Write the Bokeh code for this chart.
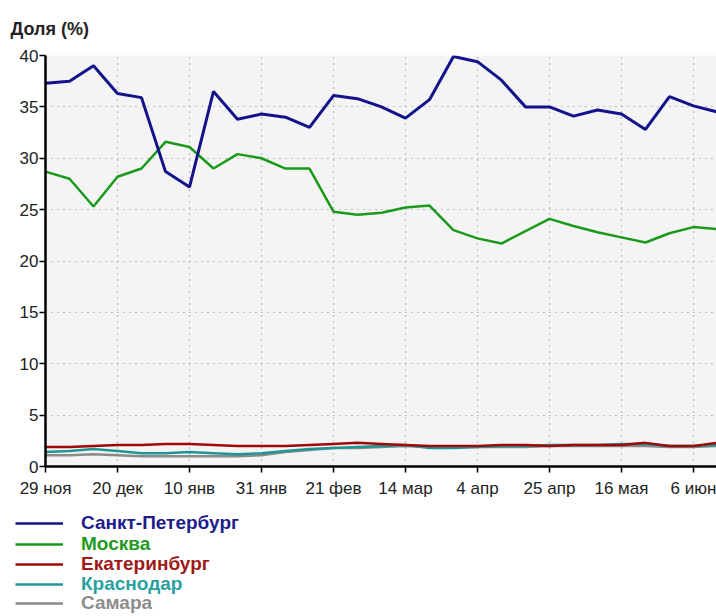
from bokeh.plotting import figure
from bokeh.models import Range1d, FixedTicker, Legend, LegendItem
from bokeh.layouts import column, row
from bokeh.embed import file_html
from bokeh.resources import INLINE

# weekly observations, 29 Nov .. 13 Jun
week_idx = list(range(29))
tick_pos = [0, 3, 6, 9, 12, 15, 18, 21, 24, 27]
tick_labels = ["29 ноя", "20 дек", "10 янв", "31 янв", "21 фев",
               "14 мар", "4 апр", "25 апр", "16 мая", "6 июн"]

spb = [37.3, 37.5, 39.0, 36.3, 35.9, 28.7, 27.2, 36.5, 33.8, 34.3, 34.0, 33.0,
       36.1, 35.8, 35.0, 33.9, 35.7, 39.9, 39.4, 37.6, 35.0, 35.0, 34.1, 34.7,
       34.3, 32.8, 36.0, 35.1, 34.5]
msk = [28.7, 28.0, 25.3, 28.2, 29.0, 31.6, 31.1, 29.0, 30.4, 30.0, 29.0, 29.0,
       24.8, 24.5, 24.7, 25.2, 25.4, 23.0, 22.2, 21.7, 22.9, 24.1, 23.4, 22.8,
       22.3, 21.8, 22.7, 23.3, 23.1]
ekb = [1.9, 1.9, 2.0, 2.1, 2.1, 2.2, 2.2, 2.1, 2.0, 2.0, 2.0, 2.1, 2.2, 2.3,
       2.2, 2.1, 2.0, 2.0, 2.0, 2.1, 2.1, 2.0, 2.1, 2.1, 2.1, 2.3, 2.0, 2.0, 2.3]
krd = [1.4, 1.5, 1.7, 1.5, 1.3, 1.3, 1.4, 1.3, 1.2, 1.3, 1.5, 1.7, 1.8, 1.9,
       2.0, 2.1, 1.8, 1.8, 1.9, 2.0, 2.0, 2.1, 2.1, 2.1, 2.2, 2.2, 2.0, 2.0, 2.1]
sam = [1.1, 1.1, 1.2, 1.1, 1.0, 1.0, 1.0, 1.0, 1.0, 1.1, 1.4, 1.6, 1.8, 1.8,
       1.9, 2.0, 1.9, 1.9, 1.9, 1.9, 1.9, 2.0, 2.0, 2.0, 2.0, 2.0, 1.9, 1.9, 2.0]

names = ["Санкт-Петербург", "Москва", "Екатеринбург", "Краснодар", "Самара"]
series = [spb, msk, ekb, krd, sam]
line_colors = ["#12128a", "#1a9a1a", "#a00808", "#1f9696", "#8a8a8a"]
line_widths = [3, 2.5, 2.5, 2.5, 2.5]
text_colors = ["#1c1c8c", "#1e9a1e", "#a01818", "#2aa0a0", "#8c8c8c"]

FONT = "Liberation Sans"

p = figure(width=716, height=512, output_backend="svg", toolbar_location=None,
           x_range=Range1d(0, 27.96), y_range=Range1d(0, 40),
           background_fill_color="#f4f4f4", border_fill_color="white",
           outline_line_color=None, min_border_left=45, min_border_right=0,
           min_border_top=54, min_border_bottom=46)

p.title.text = "Доля (%)"
p.title.text_font = FONT
p.title.text_font_size = "18px"
p.title.text_font_style = "bold"
p.title.text_color = "#222222"
p.title.align = "left"
p.title.offset = -35
p.title.standoff = 33

for ax in (p.xaxis[0], p.yaxis[0]):
    ax.axis_line_width = 2.5
    ax.axis_line_color = "black"
    ax.major_tick_line_color = "black"
    ax.major_tick_line_width = 1.5
    ax.major_tick_out = 6
    ax.major_tick_in = 0
    ax.minor_tick_line_color = None
    ax.major_label_text_font = FONT
    ax.major_label_text_font_size = "17px"
    ax.major_label_text_color = "#222222"

p.yaxis[0].ticker = FixedTicker(ticks=[0, 5, 10, 15, 20, 25, 30, 35, 40])
p.yaxis[0].major_label_standoff = 1
p.xaxis[0].ticker = FixedTicker(ticks=tick_pos)
p.xaxis[0].major_label_overrides = {t: l for t, l in zip(tick_pos, tick_labels)}
p.xaxis[0].major_label_standoff = 6

for g in (p.xgrid[0], p.ygrid[0]):
    g.grid_line_color = "#8a8a8a"
    g.grid_line_dash = "1 5"
    g.grid_line_width = 1.2

for i in [4, 3, 2, 1, 0]:
    p.line(week_idx, series[i], line_color=line_colors[i], line_width=line_widths[i])

# legend panel below the chart
lg = figure(width=716, height=104, output_backend="svg", toolbar_location=None,
            x_range=Range1d(0, 1), y_range=Range1d(0, 1),
            x_axis_type=None, y_axis_type=None,
            background_fill_color="white", border_fill_color="white",
            outline_line_color=None, min_border=0, min_border_left=0)
legend_bottom = [82, 61, 41, 21, 2]
for i in range(5):
    r = lg.line([-5, -4], [-5, -4], line_color=line_colors[i], line_width=2.5)
    leg = Legend(items=[LegendItem(label=names[i], renderers=[r])],
                 location=(15, legend_bottom[i]), orientation="vertical",
                 label_text_color=text_colors[i], label_text_font=FONT,
                 label_text_font_size="19px", label_text_font_style="bold",
                 glyph_width=48, glyph_height=20, label_height=20,
                 label_standoff=18, padding=0, margin=0, spacing=0,
                 border_line_color=None, background_fill_alpha=0)
    lg.add_layout(leg)

layout = column(p, row(lg, spacing=0), spacing=0)
open("out.html", "w").write(file_html(layout, INLINE))
